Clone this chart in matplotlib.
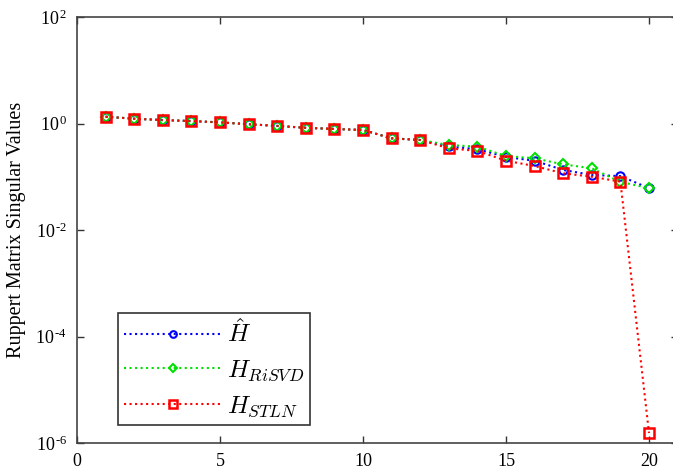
import matplotlib
matplotlib.use("Agg")
import matplotlib.pyplot as plt
from matplotlib.ticker import FixedLocator, FuncFormatter, NullLocator
from matplotlib.font_manager import FontProperties

# Data
x = list(range(1, 21))
h_hat = [1.34, 1.23, 1.16, 1.11, 1.05, 0.97, 0.90, 0.83, 0.79, 0.755,
         0.527, 0.49, 0.37, 0.33, 0.235, 0.20, 0.134, 0.108, 0.103, 0.061]
h_risvd = [1.34, 1.23, 1.16, 1.11, 1.05, 0.97, 0.90, 0.83, 0.79, 0.755,
           0.527, 0.49, 0.395, 0.367, 0.245, 0.222, 0.171, 0.144, 0.08, 0.061]
h_stln = [1.34, 1.23, 1.16, 1.11, 1.05, 0.97, 0.90, 0.83, 0.79, 0.755,
          0.527, 0.49, 0.342, 0.305, 0.20, 0.159, 0.116, 0.10, 0.081, 1.54e-6]

xticks = [0, 5, 10, 15, 20]
yticks = [1e-6, 1e-4, 1e-2, 1e0, 1e2]
ylabel = "Ruppert Matrix Singular Values"
labels = [r"$\hat{H}$", r"$H_{RiSVD}$", r"$H_{STLN}$"]

plt.rcParams['font.family'] = ['Liberation Serif', 'DejaVu Serif']
plt.rcParams['mathtext.fontset'] = 'custom'
plt.rcParams['mathtext.rm'] = 'Liberation Serif'
plt.rcParams['mathtext.it'] = 'Liberation Serif:italic'

W, H = 673, 471
fig = plt.figure(figsize=(W / 100, H / 100), dpi=100)
left, right, top, bottom = 77, 677.6, 17, 443
ax = fig.add_axes([left / W, 1 - bottom / H, (right - left) / W, (bottom - top) / H])

ax.plot(x, h_hat, linestyle=':', color='#0000ff', marker='o', markersize=6,
        markerfacecolor='none', markeredgewidth=1.5, linewidth=1.5, label=labels[0])
ax.plot(x, h_risvd, linestyle=':', color='#00e000', marker='D', markersize=5,
        markerfacecolor='none', markeredgewidth=1.5, linewidth=1.5, label=labels[1])
ax.plot(x, h_stln, linestyle=':', color='#ff0000', marker='s', markersize=7,
        markerfacecolor='none', markeredgewidth=1.8, linewidth=1.5, label=labels[2])

ax.set_yscale('log')
ax.set_xlim(0, 21)
ax.set_ylim(1e-6, 1e2)
ax.xaxis.set_major_locator(FixedLocator(xticks))
ax.yaxis.set_major_locator(FixedLocator(yticks))
ax.yaxis.set_minor_locator(NullLocator())
ax.xaxis.set_minor_locator(NullLocator())


def fmt(v, pos):
    import math
    e = int(round(math.log10(v)))
    s = str(e).replace('-', '\u2010')
    return r"$\mathregular{10^{\,%s}}$" % s


ax.yaxis.set_major_formatter(FuncFormatter(fmt))
ax.tick_params(direction='in', top=True, right=True, length=5, width=1,
               labelsize=13, color='#333333', pad=7)
for s in ax.spines.values():
    s.set_color('#444444')
    s.set_linewidth(1.2)

ax.set_ylabel(ylabel, fontsize=14.5)
ax.yaxis.set_label_coords(-0.085, 0.5)

leg_prop = FontProperties(size=18, math_fontfamily='cm')
leg = ax.legend(loc='lower left', bbox_to_anchor=(0.068, 0.042), borderaxespad=0,
                prop=leg_prop, handlelength=3.9, fancybox=False, framealpha=1,
                edgecolor='#333333', borderpad=0.25, labelspacing=0.45, handletextpad=0.2,
                markerscale=0.8)
leg.get_frame().set_linewidth(1.2)

fig.savefig("out.png", dpi=100)
